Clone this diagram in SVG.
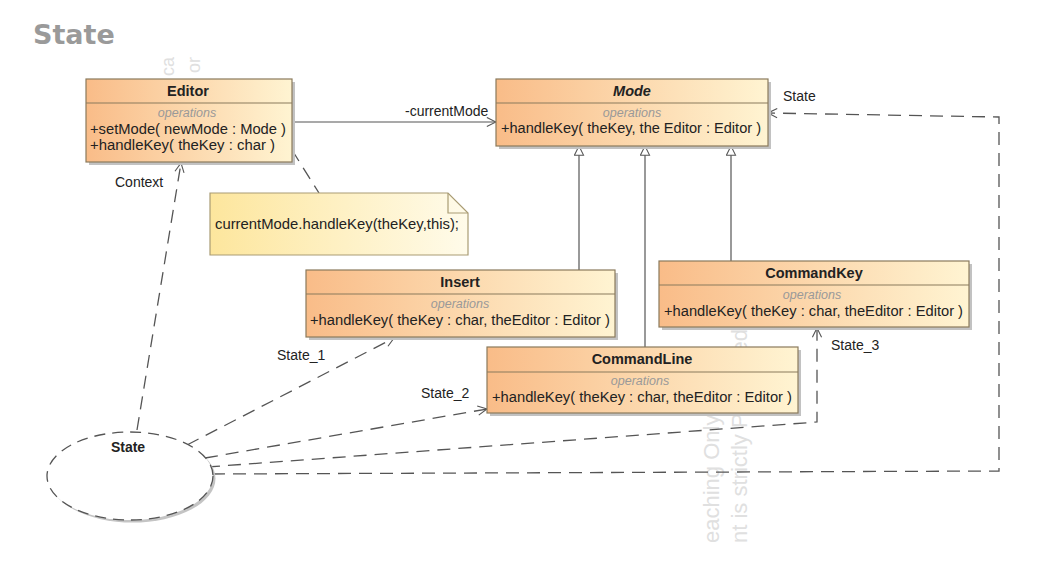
<svg xmlns="http://www.w3.org/2000/svg" width="1056" height="565" viewBox="0 0 1056 565">
<defs>
<linearGradient id="boxg" x1="0" y1="0" x2="1" y2="0">
<stop offset="0" stop-color="#f9bc88"/>
<stop offset="1" stop-color="#fff4d2"/>
</linearGradient>
<linearGradient id="noteg" x1="0" y1="0" x2="1" y2="0">
<stop offset="0" stop-color="#fde69d"/>
<stop offset="1" stop-color="#fffbea"/>
</linearGradient>
<marker id="open" viewBox="0 0 12 12" refX="11" refY="6" markerWidth="11" markerHeight="11" markerUnits="userSpaceOnUse" orient="auto">
<path d="M1,1 L11,6 L1,11" fill="none" stroke="#555" stroke-width="1.2"/>
</marker>
<marker id="gen" viewBox="0 0 12 12" refX="11" refY="6" markerWidth="11" markerHeight="11" markerUnits="userSpaceOnUse" orient="auto">
<path d="M1,1 L11,6 L1,11 Z" fill="#fff" stroke="#555" stroke-width="1.1"/>
</marker>
</defs>
<style>
text{font-family:"Liberation Sans",Arial,sans-serif;fill:#222}
.title{font-family:"DejaVu Sans",Verdana,sans-serif;font-weight:bold;font-size:27px;fill:#9a9a9a}
.wm{font-size:22px;fill:#e0e0e0}
.wms{font-size:18px;fill:#e0e0e0}
.box{fill:url(#boxg);stroke:#8a7a5c;stroke-width:1.2}
.shadow{fill:#c2c2c2}
.div{stroke:#8a7a5c;stroke-width:1.2}
.cn{font-size:14.5px;font-weight:bold;text-anchor:middle}
.ops{font-size:12.5px;font-style:italic;fill:#999;text-anchor:middle}
.op{font-size:14px}
.lbl{font-size:14px}
.solid{fill:none;stroke:#555;stroke-width:1.2}
.dash{fill:none;stroke:#555;stroke-width:1.3;stroke-dasharray:13,8}
</style>
<rect width="1056" height="565" fill="#fff"/>
<text class="title" x="33" y="44">State</text>

<g id="watermark">
<text class="wms" transform="translate(174,57) rotate(-90)" text-anchor="end">ca</text>
<text class="wms" transform="translate(200,57) rotate(-90)" text-anchor="end">or</text>
<text class="wm" transform="translate(719,543) rotate(-90)">eaching Only</text>
<text class="wm" transform="translate(747,543) rotate(-90)">nt is strictly Prohibited</text>
</g>

<g id="connectors">
<line class="solid" x1="292" y1="122" x2="496" y2="122" marker-end="url(#open)"/>
<text class="lbl" x="405" y="116">-currentMode</text>
<line class="solid" x1="579" y1="270" x2="579" y2="146" marker-end="url(#gen)"/>
<line class="solid" x1="645" y1="347" x2="645" y2="146" marker-end="url(#gen)"/>
<line class="solid" x1="731" y1="261" x2="731" y2="146" marker-end="url(#gen)"/>
<circle cx="289" cy="147" r="3" fill="none" stroke="#666" stroke-width="1"/>
<line class="dash" x1="292" y1="150" x2="319" y2="193" stroke-dasharray="10,8"/>
<line class="dash" x1="137" y1="430" x2="181" y2="163" marker-end="url(#open)"/>
<text class="lbl" x="115" y="187">Context</text>
<line class="dash" x1="187" y1="445" x2="394" y2="338" marker-end="url(#open)"/>
<text class="lbl" x="277" y="360">State_1</text>
<line class="dash" x1="205" y1="458" x2="487" y2="409" marker-end="url(#open)"/>
<text class="lbl" x="421" y="398">State_2</text>
<polyline class="dash" points="207,467 817,422 817,328" marker-end="url(#open)"/>
<text class="lbl" x="831" y="350">State_3</text>
<polyline class="dash" points="212,474 999,471 999,117 768,113" marker-end="url(#open)"/>
<text class="lbl" x="783" y="101">State</text>
</g>

<g id="note">
<path d="M210,193 H448 L468,213 V255 H210 Z" fill="url(#noteg)" stroke="#a99c74" stroke-width="1.2"/>
<path d="M448,193 V213 H468" fill="none" stroke="#a99c74" stroke-width="1.2"/>
<text x="215" y="229" font-size="14.5" textLength="244" lengthAdjust="spacingAndGlyphs">currentMode.handleKey(theKey,this);</text>
</g>

<g id="editor">
<rect class="shadow" x="89" y="82" width="206" height="83"/>
<rect class="box" x="86" y="79" width="206" height="83"/>
<line class="div" x1="86" y1="103" x2="292" y2="103"/>
<text class="cn" x="188" y="96">Editor</text>
<text class="ops" x="187" y="117">operations</text>
<text class="op" x="90" y="134" textLength="196" lengthAdjust="spacingAndGlyphs">+setMode( newMode : Mode )</text>
<text class="op" x="90" y="150" textLength="185" lengthAdjust="spacingAndGlyphs">+handleKey( theKey : char )</text>
</g>

<g id="mode">
<rect class="shadow" x="499" y="82" width="272" height="67"/>
<rect class="box" x="496" y="79" width="272" height="67"/>
<line class="div" x1="496" y1="103" x2="768" y2="103"/>
<text class="cn" x="632" y="96" font-style="italic">Mode</text>
<text class="ops" x="632" y="117">operations</text>
<text class="op" x="501" y="133" textLength="260" lengthAdjust="spacingAndGlyphs">+handleKey( theKey, the Editor : Editor )</text>
</g>

<g id="insert">
<rect class="shadow" x="309" y="273" width="309" height="67"/>
<rect class="box" x="306" y="270" width="309" height="67"/>
<line class="div" x1="306" y1="294" x2="615" y2="294"/>
<text class="cn" x="460" y="287">Insert</text>
<text class="ops" x="460" y="308">operations</text>
<text class="op" x="310" y="325" textLength="300" lengthAdjust="spacingAndGlyphs">+handleKey( theKey : char, theEditor : Editor )</text>
</g>

<g id="commandkey">
<rect class="shadow" x="662" y="264" width="310" height="66"/>
<rect class="box" x="659" y="261" width="310" height="66"/>
<line class="div" x1="659" y1="285" x2="969" y2="285"/>
<text class="cn" x="814" y="278">CommandKey</text>
<text class="ops" x="812" y="299">operations</text>
<text class="op" x="664" y="316" textLength="299" lengthAdjust="spacingAndGlyphs">+handleKey( theKey : char, theEditor : Editor )</text>
</g>

<g id="commandline">
<rect class="shadow" x="490" y="350" width="311" height="66"/>
<rect class="box" x="487" y="347" width="311" height="66"/>
<line class="div" x1="487" y1="372" x2="798" y2="372"/>
<text class="cn" x="642" y="364">CommandLine</text>
<text class="ops" x="640" y="385">operations</text>
<text class="op" x="492" y="402" textLength="300" lengthAdjust="spacingAndGlyphs">+handleKey( theKey : char, theEditor : Editor )</text>
</g>

<g id="state">
<ellipse cx="132.5" cy="478.5" rx="83" ry="44" fill="#c4c4c4"/>
<ellipse cx="130" cy="476" rx="83" ry="44" fill="#fff" stroke="#555" stroke-width="1.3" stroke-dasharray="11,7"/>
<text x="128" y="452" font-size="14" font-weight="bold" text-anchor="middle">State</text>
</g>
</svg>
